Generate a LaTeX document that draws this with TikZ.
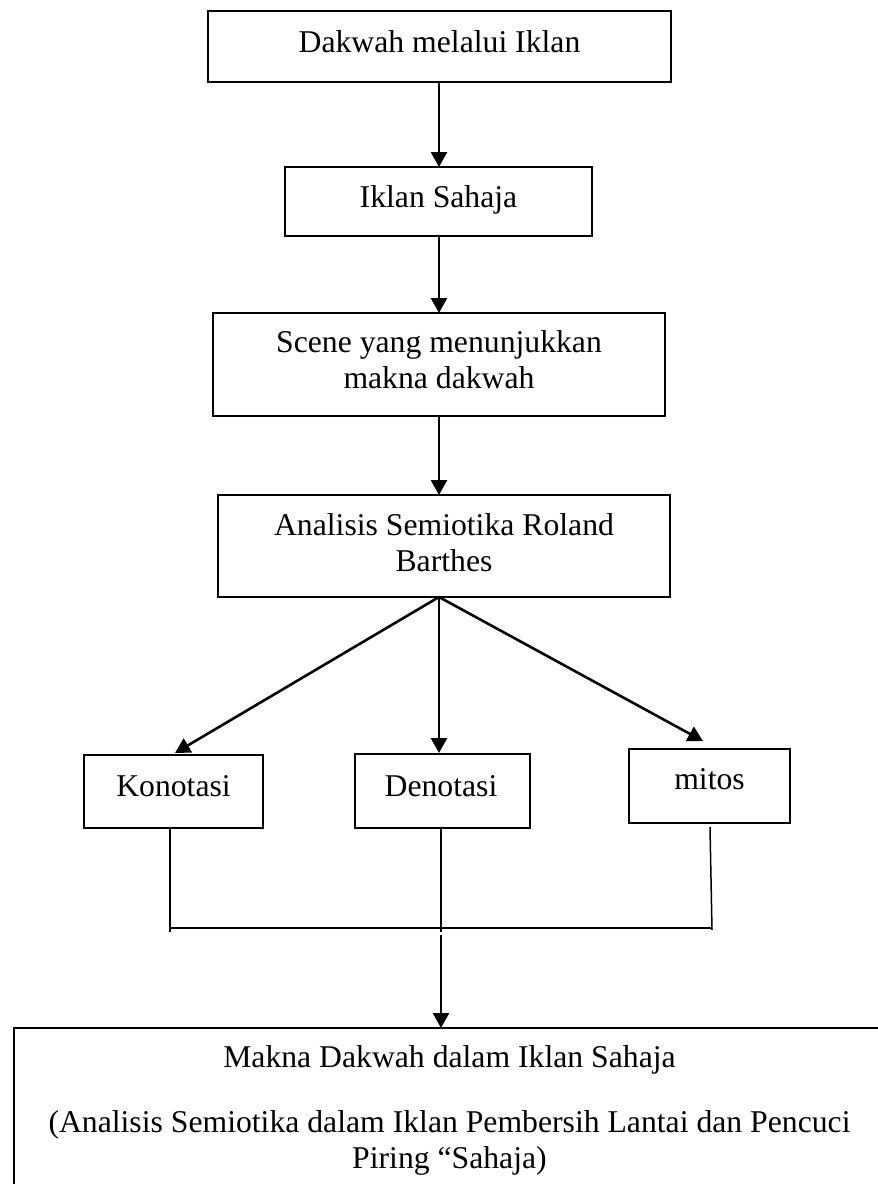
\documentclass[tikz,border=0pt]{standalone}
\usepackage{fontspec}
\setmainfont{Liberation Serif}
\usetikzlibrary{arrows.meta,calc}
\begin{document}
\begin{tikzpicture}[x=1pt,y=-1pt,
  box/.style={draw,line width=2pt,inner sep=0pt,outer sep=0pt},
  lbl/.style={inner sep=0pt,anchor=base,align=center,font=\fontsize{31.7}{36}\selectfont},
  arr/.style={line width=2.6pt,-{Triangle[length=15pt,width=16pt]}},
  thin/.style={line width=1.5pt}]
\useasboundingbox (0,0) rectangle (878,1184);
\clip (0,0) rectangle (878,1184);
% boxes
\node (b1) [box,minimum width=463pt,minimum height=71pt] at (439.5,46.5) {};
\node (b2) [box,minimum width=307pt,minimum height=69pt] at (438.5,201.5) {};
\node (b3) [box,minimum width=452pt,minimum height=103pt] at (439,364.5) {};
\node (b4) [box,minimum width=452pt,minimum height=102pt] at (444,546) {};
\node (kon) [box,minimum width=179pt,minimum height=73pt] at (173.5,791.5) {};
\node (den) [box,minimum width=175pt,minimum height=74pt] at (442.5,791) {};
\node (mit) [box,minimum width=161pt,minimum height=74pt] at (709.5,786) {};
\node (bot) [box,minimum width=871pt,minimum height=172pt] at (449.5,1114) {};
% texts (base anchor = baseline of the last line)
\node (t1) [lbl] at (439.5,52) {Dakwah melalui Iklan};
\node (t2) [lbl] at (438.5,207) {Iklan Sahaja};
\node (t3) [lbl] at (439,388) {Scene yang menunjukkan\\makna dakwah};
\node (t4) [lbl] at (444,571) {Analisis Semiotika Roland\\Barthes};
\node (tk) [lbl] at (173.5,796) {Konotasi};
\node (td) [lbl] at (441,796) {Denotasi};
\node (tm) [lbl] at (709.5,789) {mitos};
\node (tb) [lbl] at (449.5,1168) {Makna Dakwah dalam Iklan Sahaja\\[29pt](Analisis Semiotika dalam Iklan Pembersih Lantai dan Pencuci\\Piring “Sahaja)};
% arrows
\coordinate (ax) at (439,0);
\draw[arr] (b1.south -| ax) -- (b2.north -| ax);
\draw[arr] (b2.south -| ax) -- (b3.north -| ax);
\draw[arr] (b3.south -| ax) -- (b4.north -| ax);
\coordinate (apex) at (b4.south -| ax);
\draw[arr] (apex) -- ($(kon.north)+(1.5,-2)$);
\draw[arr] (apex) -- ($(den.north -| ax)+(0,-1)$);
\draw[arr] (apex) -- ($(mit.north)+(-6.5,-8)$);
% bottom connectors
\coordinate (jl) at (170,928);
\coordinate (jm) at (441,928);
\coordinate (jr) at (712,928);
\draw[thin] (kon.south -| jl) -- ($(jl)+(0,4)$);
\draw[thin] (den.south -| jm) -- ($(jm)+(0,4)$);
\draw[thin] ($(mit.south)+(0.5,4)$) -- ($(jr)+(0,2)$);
\draw[thin] (jl) -- (jr);
\draw[arr] ($(jm)+(0,7)$) -- (bot.north -| jm);
\end{tikzpicture}
\end{document}
